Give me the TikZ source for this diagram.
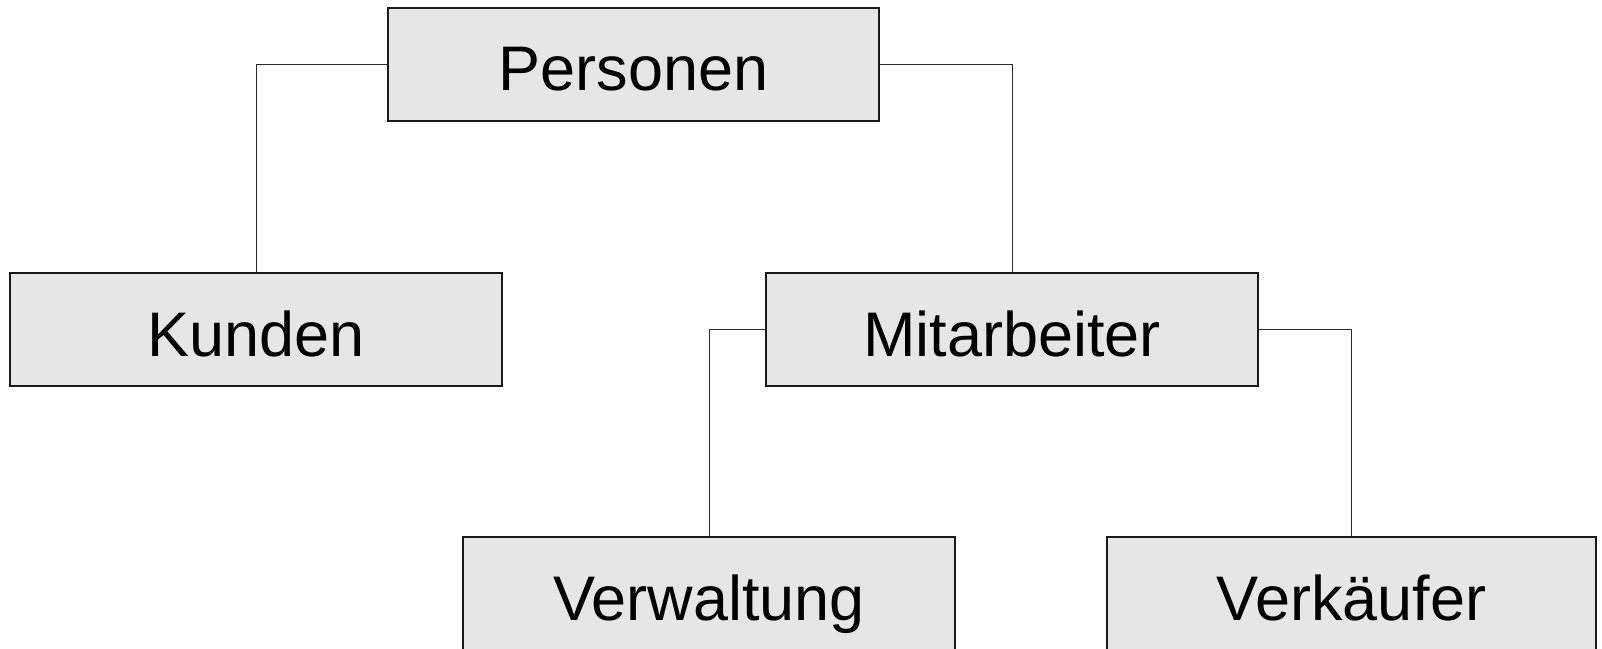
\documentclass[tikz,border=0pt]{standalone}
\usepackage{fontspec}
\setmainfont{Liberation Sans}
\definecolor{boxfill}{HTML}{E6E6E6}
\definecolor{boxline}{HTML}{1A1A1A}
\definecolor{conline}{HTML}{2A2A2A}
\tikzset{
  classbox/.style={draw=boxline, line width=1.3bp, fill=boxfill, rectangle,
    inner sep=0pt, minimum height=113bp, text height=53bp, text depth=0bp,
    font=\fontsize{63bp}{70bp}\selectfont},
  conn/.style={draw=conline, line width=1bp}
}
\begin{document}
\begin{tikzpicture}[x=1bp,y=-1bp]
\useasboundingbox (0,0) rectangle (1602,649);
\node[classbox, minimum width=491bp] (P) at (633.5,64.5) {Personen};
\node[classbox, minimum width=492bp] (K) at (256,329.5) {Kunden};
\node[classbox, minimum width=492bp] (M) at (1012,329.5) {Mitarbeiter};
\node[classbox, minimum width=492bp] (V) at (709,593.5) {Verwaltung};
\node[classbox, minimum width=489bp] (VK) at (1351.5,593.5) {Verkäufer};
\draw[conn] (P.west) -| (K.north);
\draw[conn] (P.east) -| (M.north);
\draw[conn] (M.west) -| (V.north);
\draw[conn] (M.east) -| (VK.north);
\end{tikzpicture}
\end{document}
